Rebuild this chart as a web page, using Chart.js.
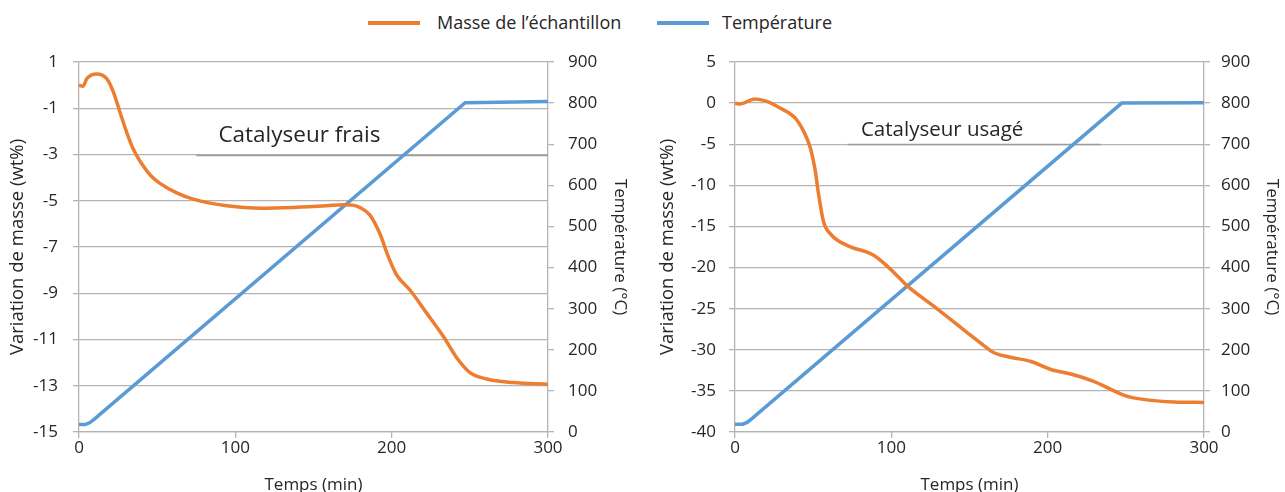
<!DOCTYPE html>
<html><head><meta charset="utf-8">
<script src="https://cdn.jsdelivr.net/npm/chart.js@4/dist/chart.umd.min.js"></script>
<style>
html,body{margin:0;padding:0;width:1285px;height:492px;overflow:hidden;background:#fff;font-family:'Open Sans',sans-serif;}
.box{position:absolute;top:0;}
.sw{position:absolute;top:21px;height:4px;}
.lt{position:absolute;top:9px;font-size:18px;line-height:26px;color:#262626;white-space:nowrap;}
</style></head>
<body>
<div class="sw" style="left:368px;width:52px;background:#ED7D31"></div>
<div class="lt" style="left:437px">Masse de l’échantillon</div>
<div class="sw" style="left:657px;width:52px;background:#5B9BD5"></div>
<div class="lt" style="left:722px">Température</div>
<div class="box" style="left:0"><canvas id="c1" width="642" height="510"></canvas></div>
<div class="box" style="left:642px"><canvas id="c2" width="643" height="510"></canvas></div>
<script>
// ---- Catalyseur frais ----
const tempsMasseFrais = [0, 2.5, 5, 11.3, 17.7, 22, 26.2, 30.5, 34.7, 41.1, 46, 51.8, 62.5, 73.1, 94.5, 115.8, 137.1, 158.4, 169, 175, 180, 186.1, 192.5, 197.9, 203.2, 211.7, 222.4, 233, 241.6, 250.1, 260.8, 277.8, 300];
const masseFrais = [0, -0.05, 0.28, 0.48, 0.28, -0.3, -1.17, -2.04, -2.76, -3.5, -3.92, -4.25, -4.66, -4.93, -5.22, -5.32, -5.29, -5.22, -5.17, -5.19, -5.3, -5.62, -6.43, -7.43, -8.21, -8.86, -9.86, -10.86, -11.79, -12.43, -12.71, -12.86, -12.93];
const tempsTempFrais = [0, 4, 7, 10, 247, 300];
const temperatureFrais = [18, 18, 23, 32, 801, 804];
// ---- Catalyseur usagé ----
const tempsMasseUsage = [0, 3, 12.8, 20.3, 28.8, 38.4, 43.8, 48.1, 51.3, 53.4, 56.6, 62, 71.6, 88.7, 97.2, 105.8, 110, 127.1, 148.5, 159.2, 165, 176, 189, 202, 216, 229, 250, 260, 281, 300];
const masseUsage = [0, -0.1, 0.5, 0.2, -0.6, -1.8, -3.4, -5.4, -8.2, -11.0, -14.4, -16.1, -17.3, -18.5, -19.8, -21.4, -22.2, -24.7, -27.9, -29.5, -30.3, -30.9, -31.4, -32.4, -33.0, -33.8, -35.6, -36.0, -36.35, -36.4];
const tempsTempUsage = [0, 5, 8, 11, 247.4, 300];
const temperatureUsage = [19, 19, 24, 33, 800, 801];
// ---- axes ----
const xTicks = [0, 100, 200, 300];
const yFraisRange = [-15, 1, 2];
const yUsageRange = [-40, 5, 5];
const tempRange = [0, 900, 100];
const seriesNames = ['Masse de l’échantillon', 'Température'];
const axisTitles = ['Temps (min)', 'Variation de masse (wt%)', 'Température (°C)'];

const ORANGE = '#ED7D31', BLUE = '#5B9BD5', GRID = '#b4b4b4', TXT = '#262626';
const FONT = "'Open Sans', sans-serif";

const annot = {
  id: 'annot',
  beforeDatasetsDraw(chart, args, o) {
    const {ctx, scales: {x, y}} = chart;
    if (o.line) {
      ctx.save();
      ctx.strokeStyle = '#9c9c9c'; ctx.lineWidth = 1.3;
      const yy = Math.round(y.getPixelForValue(o.line[2])) + 0.5;
      ctx.beginPath();
      ctx.moveTo(x.getPixelForValue(o.line[0]), yy);
      ctx.lineTo(x.getPixelForValue(o.line[1]), yy);
      ctx.stroke();
      ctx.restore();
    }
  },
  afterDatasetsDraw(chart, args, o) {
    const {ctx, scales: {x, y}} = chart;
    ctx.save();
    ctx.font = o.size + 'px ' + FONT;
    ctx.fillStyle = '#262626';
    ctx.textAlign = 'center'; ctx.textBaseline = 'middle';
    ctx.fillText(o.text, x.getPixelForValue(o.at[0]), y.getPixelForValue(o.at[1]));
    ctx.restore();
  }
};

function pts(t, v) { return t.map((tt, i) => ({x: tt, y: v[i]})); }

function make(id, c) {
  return new Chart(document.getElementById(id), {
    type: 'line',
    data: {datasets: [
      {label: seriesNames[0], data: pts(c.tm, c.m), yAxisID: 'y', borderColor: ORANGE, backgroundColor: ORANGE,
       borderWidth: 3.5, pointRadius: 0, cubicInterpolationMode: 'monotone', fill: false, clip: 4},
      {label: seriesNames[1], data: pts(c.tt, c.T), yAxisID: 'y1', borderColor: BLUE, backgroundColor: BLUE,
       borderWidth: 3.5, pointRadius: 0, tension: 0, fill: false, clip: 4}
    ]},
    options: {
      responsive: false, animation: false, devicePixelRatio: 1,
      layout: {padding: {top: 62, left: 0, right: 0, bottom: 0}},
      plugins: {legend: {display: false}, tooltip: {enabled: false}, annot: c.annot},
      scales: {
        x: {type: 'linear', min: xTicks[0], max: xTicks[xTicks.length - 1],
            afterBuildTicks(s) { s.ticks = xTicks.map(v => ({value: v})); },
            ticks: {font: {family: FONT, size: 17}, color: TXT, padding: 0, maxRotation: 0},
            grid: {drawOnChartArea: false, drawTicks: true, tickLength: 6, color: GRID, lineWidth: 1.3},
            border: {display: true, color: GRID, width: 1.3},
            title: {display: true, text: axisTitles[0], font: {family: FONT, size: 17}, color: TXT, padding: {top: 0, bottom: 15}},
            afterFit(s) { s.height = 78; }},
        y: {position: 'left', min: c.yr[0], max: c.yr[1],
            ticks: {stepSize: c.yr[2], font: {family: FONT, size: 17}, color: TXT, padding: c.lp},
            grid: {color: GRID, lineWidth: 1.3, tickLength: 6},
            border: {display: true, color: GRID, width: 1.3},
            title: {display: true, text: axisTitles[1], font: {family: FONT, size: 18.5}, color: TXT, padding: {top: c.ltp, bottom: 0}},
            afterFit(s) { s.width = c.lw; }},
        y1: {position: 'right', min: tempRange[0], max: tempRange[1],
            ticks: {stepSize: tempRange[2], font: {family: FONT, size: 17}, color: TXT, padding: c.rp},
            grid: {drawOnChartArea: false, color: GRID, lineWidth: 1.3, tickLength: 6},
            border: {display: true, color: GRID, width: 1.3},
            title: {display: true, text: axisTitles[2], font: {family: FONT, size: 17}, color: TXT, padding: {top: c.rtp, bottom: 0}},
            afterFit(s) { s.width = c.rw; }}
      }
    },
    plugins: [annot]
  });
}

make('c1', {tm: tempsMasseFrais, m: masseFrais, tt: tempsTempFrais, T: temperatureFrais, yr: yFraisRange,
  lw: 79, rw: 94, lp: 15, rp: 14, ltp: 7, rtp: 12,
  annot: {text: 'Catalyseur frais', size: 22.5, at: [141, -2.2], line: [75, 300, -3]}});
make('c2', {tm: tempsMasseUsage, m: masseUsage, tt: tempsTempUsage, T: temperatureUsage, yr: yUsageRange,
  lw: 93, rw: 81, lp: 13, rp: 11, ltp: 15, rtp: 3,
  annot: {text: 'Catalyseur usagé', size: 20.5, at: [132.5, -3.3], line: [72, 234, -5]}});
</script>
</body></html>
